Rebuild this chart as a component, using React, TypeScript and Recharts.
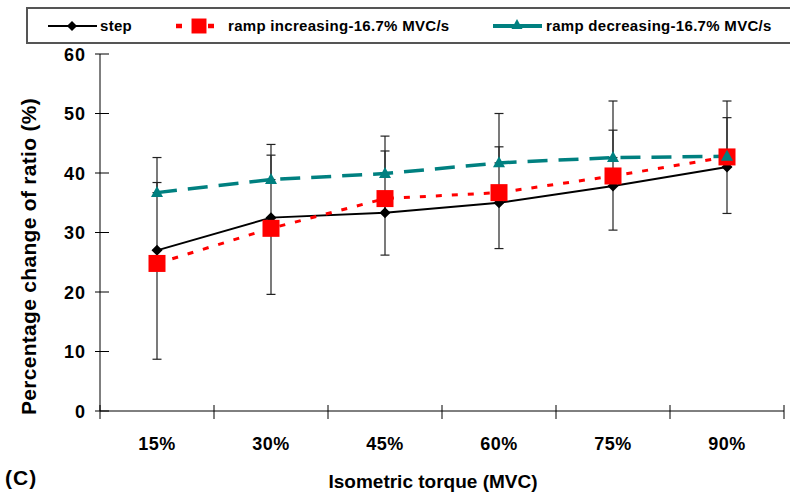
import React from "react";
import { LineChart, Line, XAxis, YAxis, ErrorBar, Label } from "recharts";

const categories = ["15%", "30%", "45%", "60%", "75%", "90%"];
const stepMean = [27.0, 32.5, 33.3, 35.0, 37.8, 41.0];
const stepPlus = [11.4, 10.5, 10.4, 9.4, 9.4, 8.3];
const rampUpMean = [24.8, 30.7, 35.7, 36.7, 39.5, 42.7];
const rampUpMinus = [16.1, 11.1, 9.5, 9.4, 9.1, 9.5];
const rampDownMean = [36.7, 38.9, 39.9, 41.7, 42.6, 42.8];
const rampDownPlus = [5.9, 5.9, 6.3, 8.3, 9.5, 9.3];
const yTicks = [0, 10, 20, 30, 40, 50, 60];

const FONT = '"Liberation Sans", Arial, Helvetica, sans-serif';

// one-sided error bars: [below, above]
const data = categories.map((c, i) => ({
  x: i + 1,
  label: c,
  step: stepMean[i],
  stepErr: [0, stepPlus[i]],
  rampUp: rampUpMean[i],
  rampUpErr: [rampUpMinus[i], 0],
  rampDown: rampDownMean[i],
  rampDownErr: [0, rampDownPlus[i]],
}));

// categories sit on whole numbers, tick marks on the half steps between them
const xTicks = [0.5, ...categories.flatMap((_, i) => [i + 1, i + 1.5])];

type Marker = "diamond" | "square" | "triangle";

function MarkerShape({ kind, cx, cy, color, scale = 1 }: { kind: Marker; cx: number; cy: number; color: string; scale?: number }) {
  if (kind === "diamond") {
    const r = 5.5 * scale;
    return <polygon points={`${cx},${cy - r} ${cx + r},${cy} ${cx},${cy + r} ${cx - r},${cy}`} fill={color} />;
  }
  if (kind === "square") {
    const s = 17 * scale;
    return <rect x={cx - s / 2} y={cy - s / 2} width={s} height={s} fill={color} />;
  }
  const w = 12 * scale;
  const h = 11 * scale;
  return (
    <polygon
      points={`${cx},${cy - h * 0.6} ${cx + w / 2},${cy + h * 0.4} ${cx - w / 2},${cy + h * 0.4}`}
      fill={color}
    />
  );
}

const series = [
  { key: "step", name: "step", color: "#000000", width: 2, dash: undefined as string | undefined, marker: "diamond" as Marker },
  { key: "rampUp", name: "ramp increasing-16.7% MVC/s", color: "#ff0000", width: 3, dash: "6 10", marker: "square" as Marker },
  { key: "rampDown", name: "ramp decreasing-16.7% MVC/s", color: "#008080", width: 3.5, dash: "20 11", marker: "triangle" as Marker },
];

// icon / text offsets inside the legend box
const legendSlots = [
  { icon: 20, text: 72 },
  { icon: 146, text: 200 },
  { icon: 465, text: 518 },
];

function LegendIcon({ s }: { s: (typeof series)[number] }) {
  if (s.marker === "square") {
    return (
      <svg width={46} height={20}>
        <line x1={2} y1={10} x2={44} y2={10} stroke={s.color} strokeWidth={4.5} strokeDasharray="6 10" />
        <MarkerShape kind="square" cx={25} cy={10} color={s.color} scale={0.88} />
      </svg>
    );
  }
  return (
    <svg width={50} height={20}>
      <line x1={0} y1={10} x2={49} y2={10} stroke={s.color} strokeWidth={s.marker === "triangle" ? 4 : 2} />
      <MarkerShape kind={s.marker} cx={24} cy={s.marker === "triangle" ? 9 : 10} color={s.color} scale={0.92} />
    </svg>
  );
}

function ChartLegend() {
  return (
    <div
      style={{
        position: "absolute",
        left: 26,
        top: 7,
        width: 780,
        height: 33,
        border: "2px solid #555",
        background: "#fff",
        fontFamily: FONT,
        fontWeight: "bold",
        fontSize: 15,
        letterSpacing: 0.3,
      }}
    >
      {series.map((s, i) => (
        <React.Fragment key={s.key}>
          <div style={{ position: "absolute", left: legendSlots[i].icon, top: 7, height: 20, lineHeight: 0 }}>
            <LegendIcon s={s} />
          </div>
          <div style={{ position: "absolute", left: legendSlots[i].text, top: 0, height: 33, lineHeight: "33px", whiteSpace: "nowrap" }}>
            {s.name}
          </div>
        </React.Fragment>
      ))}
    </div>
  );
}

function XTick(props: any) {
  const { x, y, payload } = props;
  const v = payload.value as number;
  if (!Number.isInteger(v)) {
    return <line x1={x} y1={y - 6} x2={x} y2={y + 8} stroke="#000" strokeWidth={1} />;
  }
  return (
    <text x={x} y={y + 39} textAnchor="middle" fontFamily={FONT} fontWeight="bold" fontSize={18} letterSpacing={0.5} fill="#000">
      {categories[v - 1]}
    </text>
  );
}

function YTick(props: any) {
  const { x, y, payload } = props;
  return (
    <g>
      <line x1={x - 5} y1={y} x2={x + 9} y2={y} stroke="#000" strokeWidth={1} />
      <text x={x - 14} y={y + 6.5} textAnchor="end" fontFamily={FONT} fontWeight="bold" fontSize={18} letterSpacing={1} fill="#000">
        {payload.value}
      </text>
    </g>
  );
}

function YTitle(props: any) {
  const vb = props.viewBox || { x: 0, y: 54, width: 100, height: 357 };
  const cx = vb.x + 28;
  const cy = vb.y + vb.height / 2 + 24;
  return (
    <text
      x={cx}
      y={cy}
      transform={`rotate(-90 ${cx} ${cy})`}
      textAnchor="middle"
      dominantBaseline="central"
      fontFamily={FONT}
      fontWeight="bold"
      fontSize={21}
      letterSpacing={0.3}
      fill="#000"
    >
      Percentage change of ratio (%)
    </text>
  );
}

function XTitle(props: any) {
  const vb = props.viewBox || { x: 100, y: 411, width: 684, height: 88 };
  return (
    <text
      x={vb.x + vb.width / 2 - 9}
      y={vb.y + 70}
      textAnchor="middle"
      dominantBaseline="central"
      fontFamily={FONT}
      fontWeight="bold"
      fontSize={19}
      fill="#000"
    >
      Isometric torque (MVC)
    </text>
  );
}

export default function App() {
  return (
    <div style={{ position: "fixed", left: 0, top: 0, width: 790, height: 499, overflow: "hidden", background: "#fff" }}>
      <LineChart width={790} height={499} data={data} margin={{ top: 54, right: 6, bottom: 0, left: 0 }}>
        <XAxis
          dataKey="x"
          type="number"
          domain={[0.5, 6.5]}
          ticks={xTicks}
          interval={0}
          height={88}
          tickSize={0}
          tickMargin={0}
          tickLine={false}
          axisLine={{ stroke: "#000", strokeWidth: 1 }}
          tick={<XTick />}
        >
          <Label content={<XTitle />} />
        </XAxis>
        <YAxis
          type="number"
          domain={[0, 60]}
          ticks={yTicks}
          interval={0}
          width={100}
          tickSize={0}
          tickMargin={0}
          tickLine={false}
          axisLine={{ stroke: "#000", strokeWidth: 1 }}
          tick={<YTick />}
          allowDataOverflow
        >
          <Label content={<YTitle />} />
        </YAxis>
        {series.map((s) => (
          <Line
            key={s.key}
            dataKey={s.key}
            name={s.name}
            type="linear"
            stroke={s.color}
            strokeWidth={s.width}
            strokeDasharray={s.dash}
            isAnimationActive={false}
            activeDot={false}
            dot={(p: any) => (
              <MarkerShape key={`${s.key}-${p.index}`} kind={s.marker} cx={p.cx} cy={p.cy} color={s.color} />
            )}
          >
            <ErrorBar dataKey={`${s.key}Err`} width={4.5} stroke="#222" strokeWidth={1.2} direction="y" isAnimationActive={false} />
          </Line>
        ))}
      </LineChart>
      <ChartLegend />
      <div
        style={{
          position: "absolute",
          left: 5,
          top: 466,
          fontFamily: FONT,
          fontWeight: "bold",
          fontSize: 21,
          letterSpacing: 1,
          lineHeight: "24px",
        }}
      >
        (C)
      </div>
    </div>
  );
}
